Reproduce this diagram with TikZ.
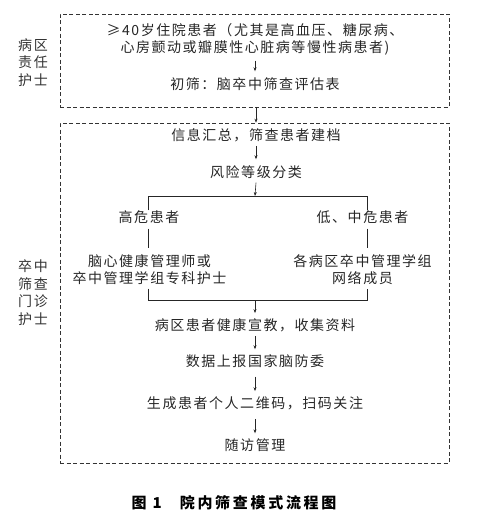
\documentclass[tikz,border=0pt]{standalone}
\usepackage{fontspec}
\newfontfamily\cjk[LetterSpace=11]{Noto Sans CJK SC}
\newfontfamily\cjkcap[LetterSpace=18]{Noto Sans CJK SC}
\usetikzlibrary{arrows.meta}
\begin{document}
\begin{tikzpicture}[x=1pt,y=-1pt,
  txt/.style={inner sep=0pt, align=center, text=black!85, font=\cjk\fontsize{14}{17}\selectfont},
  side/.style={inner sep=0pt, align=center, text=black!80, font=\cjk\fontsize{14}{17.5}\selectfont},
  dbox/.style={draw=black!80, dashed, dash pattern=on 4pt off 2.5pt, line width=0.7pt, inner sep=0pt},
  arr/.style={draw=black!85, line width=0.6pt, -{Stealth[length=4pt,width=3pt]}},
  ln/.style={draw=black!85, line width=0.6pt}]
\useasboundingbox (0,0) rectangle (478,525);
% boxes
\node[dbox, minimum width=389pt, minimum height=93pt] (box1) at (254.5,60.5) {};
\node[dbox, minimum width=389pt, minimum height=340pt] (box2) at (254.5,293) {};
% side labels
\node[side] (lab1) at (33,62.5) {病区\\责任\\护士};
\node[side] (lab2) at (33,292.5) {卒中\\筛查\\门诊\\护士};
% box1 content
\node[txt] (t1) at (255,39.5) {≥40岁住院患者（尤其是高血压、糖尿病、\\心房颤动或瓣膜性心脏病等慢性病患者)};
\node[txt] (t2) at (255,84) {初筛：脑卒中筛查评估表};
\draw[arr] ([yshift=-5pt]t1.south) -- ([yshift=6pt]t2.north);
% box2 content
\node[txt] (t3) at (256,135) {信息汇总，筛查患者建档};
\node[txt] (t4) at (256,172) {风险等级分类};
\draw[arr] (box1.south -| t3) -- (box2.north -| t3);
\draw[arr] ([yshift=-4pt]t3.south) -- ([yshift=6pt]t4.north);
\coordinate (split) at (255,196);
\coordinate (sl) at (148,196);
\coordinate (sr) at (367,196);
\draw[arr] ([yshift=-4pt]t4.south) -- (split);
\node[txt] (hi) at (149,217) {高危患者};
\node[txt] (lo) at (362.5,217) {低、中危患者};
\draw[ln] (sl |- hi.north) -- (sl) -- (sr) -- (sr |- hi.north);
\node[txt] (hi2) at (149.5,269.5) {脑心健康管理师或\\卒中管理学组专科护士};
\node[txt] (lo2) at (362.5,269.5) {各病区卒中管理学组\\网络成员};
\draw[ln] ([yshift=-5pt]hi.south -| sl) -- ([yshift=6pt]hi2.north -| sl);
\draw[ln] ([yshift=-5pt]lo.south -| sr) -- ([yshift=6pt]lo2.north -| sr);
\coordinate (ml) at (148,300);
\coordinate (mr) at (367,300);
\coordinate (merge) at (255,300);
\draw[ln] ([yshift=-4pt]hi2.south -| ml) -- (ml) -- (mr) -- ([yshift=-4pt]lo2.south -| mr);
\node[txt] (t5) at (255,325) {病区患者健康宣教，收集资料};
\node[txt] (t6) at (255,361) {数据上报国家脑防委};
\node[txt] (t7) at (255,403) {生成患者个人二维码，扫码关注};
\node[txt] (t8) at (255,445) {随访管理};
\draw[arr] (merge) -- ([yshift=5pt]t5.north);
\draw[arr] ([yshift=-4pt]t5.south) -- ([yshift=5pt]t6.north);
\draw[arr] ([yshift=-9pt]t6.south) -- ([yshift=5pt]t7.north);
\draw[arr] ([yshift=-9pt]t7.south) -- ([yshift=5pt]t8.north);
% caption
\node[inner sep=0pt, text=black, font=\cjkcap\bfseries\fontsize{15}{18}\selectfont] (cap) at (234,503) {图 1\hspace{1.2em}院内筛查模式流程图};
\end{tikzpicture}
\end{document}
